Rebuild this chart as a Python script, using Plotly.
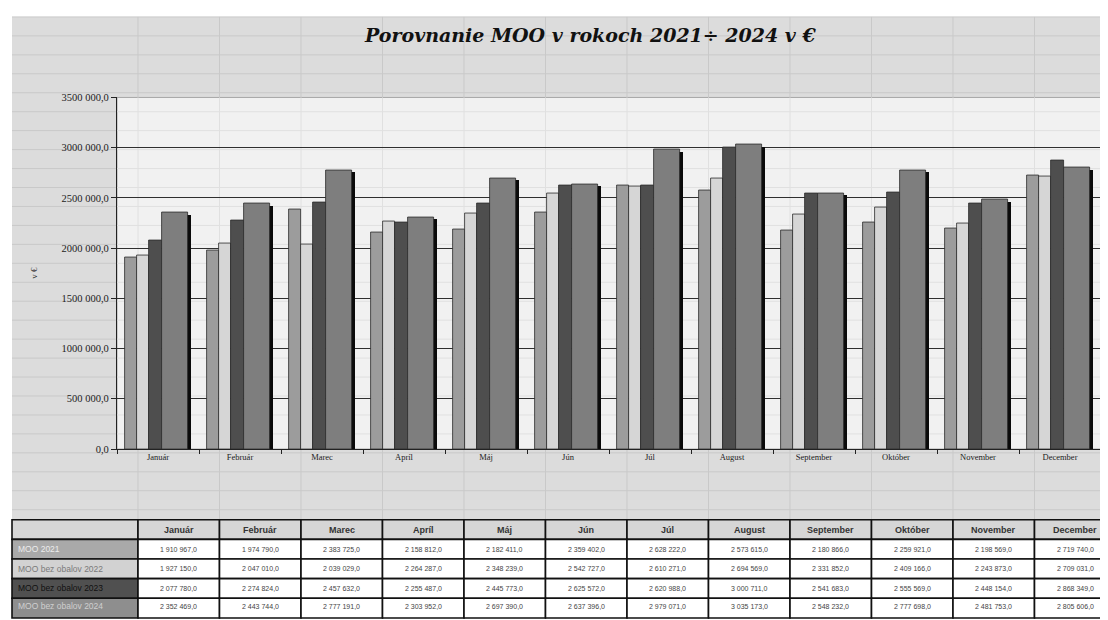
import plotly.graph_objects as go

months = ["Január", "Február", "Marec", "Apríl", "Máj", "Jún", "Júl", "August",
          "September", "Október", "November", "December"]
series_names = ["MOO 2021", "MOO bez obalov 2022", "MOO bez obalov 2023", "MOO bez obalov 2024"]
moo_2021 = [1910967, 1974790, 2383725, 2158812, 2182411, 2359402, 2628222, 2573615,
            2180866, 2259921, 2198569, 2719740]
moo_2022 = [1927150, 2047010, 2039029, 2264287, 2348239, 2542727, 2610271, 2694569,
            2331852, 2409166, 2243873, 2709031]
moo_2023 = [2077780, 2274824, 2457632, 2255487, 2445773, 2625572, 2620988, 3000711,
            2541683, 2555569, 2448154, 2868349]
moo_2024 = [2352469, 2443744, 2777191, 2303952, 2697390, 2637396, 2979071, 3035173,
            2548232, 2777698, 2481753, 2805606]
ytick_vals = [0, 500000, 1000000, 1500000, 2000000, 2500000, 3000000, 3500000]
ytick_text = ["0,0", "500 000,0", "1000 000,0", "1500 000,0", "2000 000,0",
              "2500 000,0", "3000 000,0", "3500 000,0"]

# the page adds an 8px body margin; work in reference pixels and convert
OFF = 8
W, H = 1108 - OFF, 620 - OFF


def px(x):
    return (x - OFF) / W


def py(y):
    return 1 - (y - OFF) / H


all_series = [moo_2021, moo_2022, moo_2023, moo_2024]
colors = ["#9c9c9c", "#d6d6d6", "#4e4e4e", "#7e7e7e"]
offsets = [-0.40, -0.255, -0.11, 0.05]
widths = [0.145, 0.145, 0.16, 0.32]

fig = go.Figure()

# 3D side shadow of the widest bars
fig.add_trace(go.Bar(x=months, y=[v * 0.99 for v in moo_2024], offset=0.355, width=0.05,
                     marker=dict(color="#0a0a0a", line=dict(width=0)),
                     showlegend=False, hoverinfo="skip"))
for name, vals, c, o, w in zip(series_names, all_series, colors, offsets, widths):
    fig.add_trace(go.Bar(x=months, y=vals, name=name, offset=o, width=w,
                         marker=dict(color=c, line=dict(color="#2a2a2a", width=0.8)),
                         showlegend=False))


def fmt(v):
    s = f"{v:,}".replace(",", " ")
    return s + ",0"


PL, PR, PT, PB = 117, 1101, 94, 452
shapes = []
annotations = []
# spreadsheet background
shapes.append(dict(type="rect", xref="paper", yref="paper", x0=px(12), x1=1,
                   y0=py(524), y1=py(12), fillcolor="#dcdcdc",
                   line=dict(width=0), layer="below"))
yy = 12
while yy < 524:
    shapes.append(dict(type="line", xref="paper", yref="paper", x0=px(12), x1=1,
                       y0=py(yy), y1=py(yy),
                       line=dict(color="#c9c9c9", width=1), layer="below"))
    yy += 19.3
xx = 138
while xx < 1108:
    shapes.append(dict(type="line", xref="paper", yref="paper", x0=px(xx), x1=px(xx),
                       y0=py(524), y1=py(12),
                       line=dict(color="#c9c9c9", width=1), layer="below"))
    xx += 81.5
# lighter plot area with faint sheet grid
shapes.append(dict(type="rect", xref="paper", yref="paper", x0=px(PL), x1=px(PR),
                   y0=py(PB), y1=py(PT), fillcolor="#f1f1f1",
                   line=dict(color="#a8a8a8", width=1), layer="below"))
yy = 12
while yy < PB:
    if yy > PT + 2:
        shapes.append(dict(type="line", xref="paper", yref="paper", x0=px(PL), x1=px(PR),
                           y0=py(yy), y1=py(yy),
                           line=dict(color="#e0e0e0", width=1), layer="below"))
    yy += 19.3
xx = 138
while xx < PR:
    shapes.append(dict(type="line", xref="paper", yref="paper", x0=px(xx), x1=px(xx),
                       y0=py(PB), y1=py(PT),
                       line=dict(color="#e0e0e0", width=1), layer="below"))
    xx += 81.5

# data table under the chart, built from the data lists
TX0, TC0, CW = 12, 138, 81.5
TY0, RH = 524, 20
label_fill = ["#a9a9a9", "#d2d2d2", "#505050", "#8e8e8e"]
label_font = ["#ececec", "#7a7a7a", "#101010", "#cfcfcf"]
FONT = "Liberation Sans, Arial"


def cell(x0, x1, y0, y1, fill):
    shapes.append(dict(type="rect", xref="paper", yref="paper", x0=px(x0), x1=px(x1),
                       y0=py(y1), y1=py(y0), fillcolor=fill,
                       line=dict(color="#111111", width=1.6), layer="above"))


def text(t, x, y, size, color, anchor="center", bold=False):
    annotations.append(dict(text=f"<b>{t}</b>" if bold else t, xref="paper", yref="paper",
                            x=px(x), y=py(y), xanchor=anchor, yanchor="middle",
                            showarrow=False,
                            font=dict(family=FONT, size=size, color=color)))


cell(TX0, TC0, TY0, TY0 + RH, "#d6d6d6")
for i, m in enumerate(months):
    x0 = TC0 + i * CW
    cell(x0, x0 + CW, TY0, TY0 + RH, "#d6d6d6")
    text(m, x0 + CW / 2, TY0 + RH / 2, 9, "#333333", bold=True)
for r, (name, vals) in enumerate(zip(series_names, all_series)):
    y0 = TY0 + (r + 1) * RH
    cell(TX0, TC0, y0, y0 + RH, label_fill[r])
    text(name, TX0 + 4, min(y0 + RH / 2, 612), 8.5, label_font[r], anchor="left")
    for i, v in enumerate(vals):
        x0 = TC0 + i * CW
        cell(x0, x0 + CW, y0, y0 + RH, "#ffffff")
        text(fmt(v), x0 + CW / 2, min(y0 + RH / 2, 612), 7, "#444444")

annotations.append(dict(text="<b><i>Porovnanie MOO v rokoch 2021÷ 2024 v €</i></b>",
                        xref="paper", yref="paper", x=px(590), y=py(30),
                        xanchor="center", yanchor="middle", showarrow=False,
                        font=dict(family="DejaVu Serif", size=19, color="#111111")))

fig.update_layout(
    width=W, height=H,
    margin=dict(l=0, r=0, t=0, b=0),
    paper_bgcolor="#ffffff",
    plot_bgcolor="rgba(0,0,0,0)",
    barmode="overlay",
    bargap=0, showlegend=False,
    shapes=shapes,
    annotations=annotations,
    xaxis=dict(domain=[px(PL), px(PR)], type="category",
               showgrid=False, showline=True, linecolor="#222222", linewidth=1.2,
               ticks="outside", tickson="boundaries", ticklen=4, tickcolor="#222222",
               tickfont=dict(family="Liberation Serif, Times New Roman", size=8.5, color="#222222"),
               range=[-0.5, 11.5]),
    yaxis=dict(domain=[py(PB), py(PT)], range=[0, 3500000],
               tickvals=ytick_vals, ticktext=ytick_text,
               showgrid=True, gridcolor="#2f2f2f", gridwidth=1.3,
               showline=True, linecolor="#222222", linewidth=1.2,
               ticks="outside", ticklen=5, tickcolor="#222222",
               tickfont=dict(family="Liberation Serif, Times New Roman", size=10.5, color="#222222"),
               title=dict(text="v €", font=dict(family="Liberation Serif", size=9, color="#333333"),
                          standoff=22),
               zeroline=False),
)

fig.write_html("out.html")
